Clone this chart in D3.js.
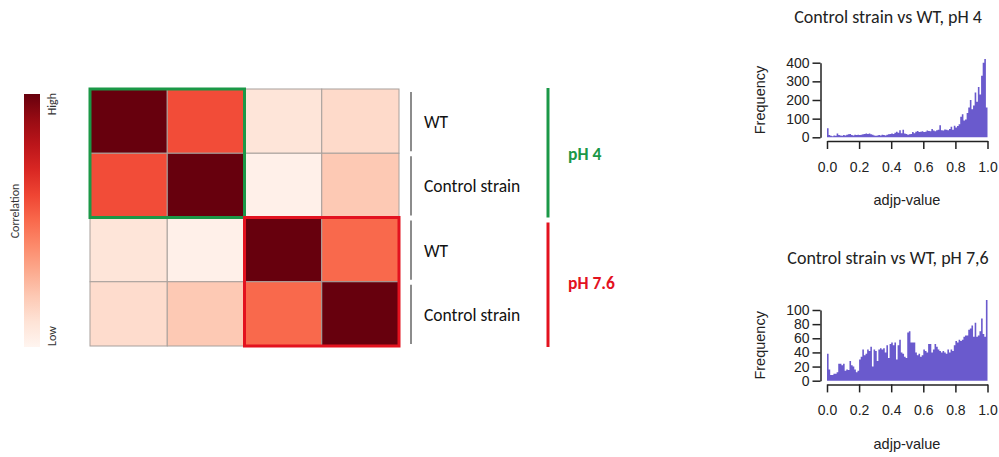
<!DOCTYPE html>
<html>
<head>
<meta charset="utf-8">
<script src="https://cdn.jsdelivr.net/npm/d3@7"></script>
<style>
    body { margin: 0; background: #fff; }
    svg { display: block; }
    .lbl { font-family: Carlito, Lato, "Open Sans", sans-serif; }
    .rax { font-family: "Liberation Sans", Arial, sans-serif; }
</style>
</head>
<body>
<div id="chart"></div>
<script>
    // Heatmap data
    var samples = ['WT', 'Control strain', 'WT', 'Control strain'];
    var groups = ['pH 4', 'pH 7.6'];
    var groupColors = ['#1b9847', '#e3121f'];
    var correlation = [
        [1.00, 0.58, 0.09, 0.14],
        [0.58, 1.00, 0.03, 0.20],
        [0.09, 0.03, 1.00, 0.50],
        [0.13, 0.20, 0.50, 1.00]
    ];

    // Histogram data (100 bins of 0.01 on adjp-value)
    var histTitles = ['Control strain vs WT, pH 4', 'Control strain vs WT, pH 7,6'];
    var histPH4 = [
        48, 12, 8, 5, 10, 8, 20, 12, 10, 8,
        12, 10, 14, 16, 18, 12, 10, 14, 12, 14,
        12, 14, 16, 18, 20, 18, 20, 16, 14, 10,
        8, 10, 12, 10, 14, 12, 10, 14, 16, 18,
        20, 18, 24, 30, 25, 38, 22, 40, 20, 18,
        14, 16, 18, 28, 22, 30, 34, 28, 30, 32,
        28, 30, 36, 34, 32, 44, 36, 32, 38, 40,
        64, 38, 36, 42, 40, 38, 44, 56, 40, 62,
        52, 60, 70, 110, 124, 90, 96, 130, 160, 200,
        150, 170, 240, 190, 270, 230, 330, 400, 420, 160
    ];
    var histPH76 = [
        38, 16, 8, 8, 10, 10, 12, 24, 24, 22,
        24, 14, 16, 15, 28, 22, 20, 16, 12, 14,
        30, 34, 44, 36, 38, 44, 42, 48, 20, 44,
        42, 28, 44, 46, 44, 46, 40, 50, 32, 52,
        54, 50, 54, 30, 50, 58, 40, 38, 34, 32,
        68, 70, 54, 54, 54, 40, 36, 38, 34, 36,
        44, 42, 40, 52, 52, 40, 44, 52, 48, 44,
        42, 40, 42, 40, 38, 44, 40, 44, 42, 50,
        56, 54, 58, 56, 58, 62, 64, 64, 72, 74,
        78, 62, 82, 62, 64, 70, 88, 66, 62, 114
    ];
    var histYTicks = [[0, 100, 200, 300, 400], [0, 20, 40, 60, 80, 100]];
    var histYMax = [400, 100];
    var xTicks = [0, 0.2, 0.4, 0.6, 0.8, 1.0];

    var svg = d3.select('#chart')
        .append('svg')
        .attr('width', 999)
        .attr('height', 457);

    // ---- Colour legend
    var grad = svg.append('defs')
        .append('linearGradient')
        .attr('id', 'redsGrad')
        .attr('x1', 0).attr('y1', 1).attr('x2', 0).attr('y2', 0);
    d3.range(0, 1.001, 0.1).forEach(function (t) {
        grad.append('stop')
            .attr('offset', t)
            .attr('stop-color', d3.interpolateReds(t));
    });
    svg.append('rect')
        .attr('x', 24).attr('y', 94)
        .attr('width', 16).attr('height', 253)
        .attr('fill', 'url(#redsGrad)');
    svg.append('text').attr('class', 'lbl')
        .attr('transform', 'translate(56,93) rotate(-90)')
        .attr('text-anchor', 'end')
        .attr('font-size', 12).attr('fill', '#333')
        .text('High');
    svg.append('text').attr('class', 'lbl')
        .attr('transform', 'translate(56,346) rotate(-90)')
        .attr('text-anchor', 'start')
        .attr('font-size', 12).attr('fill', '#333')
        .text('Low');
    svg.append('text').attr('class', 'lbl')
        .attr('transform', 'translate(19,211) rotate(-90)')
        .attr('text-anchor', 'middle')
        .attr('font-size', 12).attr('fill', '#333')
        .text('Correlation');

    // ---- Heatmap
    var idx = d3.range(samples.length);
    var hx = d3.scaleBand().domain(idx).range([90, 399]);
    var hy = d3.scaleBand().domain(idx).range([89, 346]);
    var color = d3.scaleSequential(d3.interpolateReds).domain([0, 1]);

    var cells = [];
    correlation.forEach(function (row, r) {
        row.forEach(function (v, c) { cells.push({r: r, c: c, v: v}); });
    });
    svg.append('g')
        .selectAll('rect')
        .data(cells)
        .enter()
        .append('rect')
        .attr('x', function (d) { return hx(d.c); })
        .attr('y', function (d) { return hy(d.r); })
        .attr('width', hx.bandwidth())
        .attr('height', hy.bandwidth())
        .attr('fill', function (d) { return color(d.v); })
        .attr('stroke', '#a8a09c')
        .attr('stroke-width', 1);

    // group boxes
    groups.forEach(function (g, i) {
        svg.append('rect')
            .attr('x', hx(i * 2))
            .attr('y', hy(i * 2))
            .attr('width', hx.bandwidth() * 2)
            .attr('height', hy.bandwidth() * 2)
            .attr('fill', 'none')
            .attr('stroke', groupColors[i])
            .attr('stroke-width', 3);
    });

    // row labels
    idx.forEach(function (i) {
        svg.append('line')
            .attr('x1', 411).attr('x2', 411)
            .attr('y1', hy(i) + 3).attr('y2', hy(i) + hy.bandwidth() - 2)
            .attr('stroke', '#8c8c8c').attr('stroke-width', 2);
        svg.append('text').attr('class', 'lbl')
            .attr('x', 424)
            .attr('y', hy(i) + hy.bandwidth() / 2 + 7)
            .attr('font-size', 17.5).attr('fill', '#111')
            .text(samples[i]);
    });

    groups.forEach(function (g, i) {
        svg.append('line')
            .attr('x1', 548).attr('x2', 548)
            .attr('y1', hy(i * 2) - (i === 0 ? 1 : -5))
            .attr('y2', hy(i * 2) + hy.bandwidth() * 2 + (i === 0 ? 0 : 1))
            .attr('stroke', groupColors[i]).attr('stroke-width', 3);
        svg.append('text').attr('class', 'lbl')
            .attr('x', 568)
            .attr('y', hy(i * 2) + hy.bandwidth() + 7)
            .attr('font-size', 17.5).attr('font-weight', 'bold')
            .attr('fill', groupColors[i])
            .text(g);
    });

    // ---- Histograms
    var histData = [histPH4, histPH76];
    histData.forEach(function (vals, k) {
        var x = d3.scaleLinear().domain([0, 1]).range([827, 987.5]);
        var y0 = k === 0 ? 137.3 : 380.7;
        var y1 = k === 0 ? 62.7 : 310;
        var y = d3.scaleLinear().domain([0, histYMax[k]]).range([y0, y1]);
        var g = svg.append('g');

        g.append('text').attr('class', 'lbl')
            .attr('x', 888).attr('y', k === 0 ? 23 : 264)
            .attr('text-anchor', 'middle')
            .attr('font-size', 18).attr('fill', '#222')
            .text(histTitles[k]);

        // step outline of the bins, drawn as one filled area
        var steps = vals.map(function (d, i) { return {x: i / 100, v: d}; });
        steps.push({x: 1, v: vals[vals.length - 1]});
        var area = d3.area()
            .curve(d3.curveStepAfter)
            .x(function (d) { return x(d.x); })
            .y0(y0)
            .y1(function (d) { return y(d.v); });
        g.append('path')
            .datum(steps)
            .attr('d', area)
            .attr('fill', '#6a5acd');

        // y axis
        var yAxis = g.append('g')
            .attr('class', 'rax')
            .attr('transform', 'translate(820.5,0)')
            .call(d3.axisLeft(y).tickValues(histYTicks[k]).tickSize(8).tickSizeOuter(0));
        yAxis.select('.domain').attr('stroke', '#222').attr('stroke-width', 1.5);
        yAxis.selectAll('.tick line').attr('stroke', '#222').attr('stroke-width', 1.5);
        yAxis.selectAll('.tick text')
            .attr('font-size', 14).attr('fill', '#222')
            .attr('x', -11).attr('font-family', '"Liberation Sans", Arial, sans-serif');

        // x axis
        var xAxis = g.append('g')
            .attr('class', 'rax')
            .attr('transform', 'translate(0,' + (y0 + 3.7) + ')')
            .call(d3.axisBottom(x).tickValues(xTicks).tickFormat(d3.format('.1f')).tickSize(8).tickSizeOuter(0));
        xAxis.select('.domain').attr('stroke', '#222').attr('stroke-width', 1.5);
        xAxis.selectAll('.tick line').attr('stroke', '#222').attr('stroke-width', 1.5);
        xAxis.selectAll('.tick text')
            .attr('font-size', 14).attr('fill', '#222')
            .attr('y', 21).attr('font-family', '"Liberation Sans", Arial, sans-serif');

        g.append('text').attr('class', 'rax')
            .attr('transform', 'translate(765,' + ((y0 + y1) / 2) + ') rotate(-90)')
            .attr('text-anchor', 'middle')
            .attr('font-size', 14.5).attr('fill', '#222')
            .text('Frequency');
        g.append('text').attr('class', 'rax')
            .attr('x', 907).attr('y', k === 0 ? 205 : 449)
            .attr('text-anchor', 'middle')
            .attr('font-size', 14.5).attr('fill', '#222')
            .text('adjp-value');
    });
</script>
</body>
</html>
